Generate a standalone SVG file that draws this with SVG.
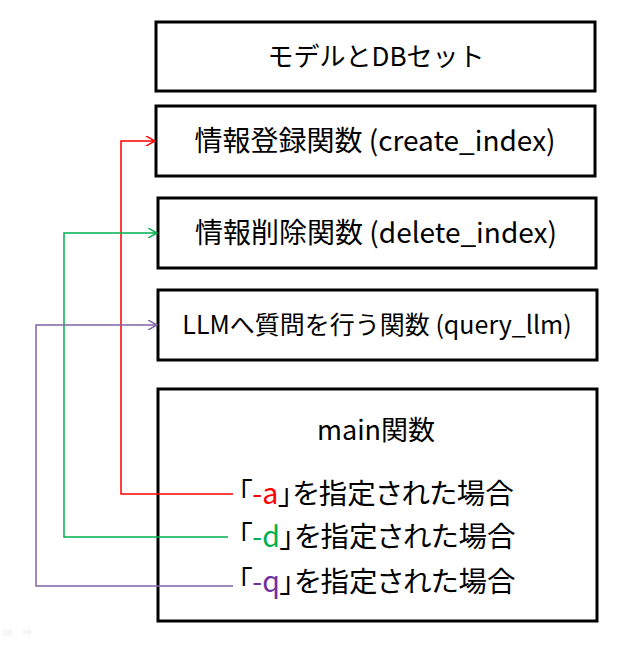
<svg xmlns="http://www.w3.org/2000/svg" width="629" height="647" viewBox="0 0 629 647">
<style>
.box{fill:#fff;stroke:#000;stroke-width:3}
.t{font-family:"Noto Sans CJK JP","Liberation Sans",sans-serif;font-size:28px;fill:#000}
.c{text-anchor:middle}
.o{font-size:28.5px;font-feature-settings:"palt"}
.ln{fill:none;stroke-width:1.5}
</style>
<defs>
<marker id="arR" viewBox="0 0 10 10" refX="9" refY="5" markerWidth="10" markerHeight="10" markerUnits="userSpaceOnUse" orient="auto"><path d="M0,0 L9,5 L0,10" fill="none" stroke="#ff0000" stroke-width="1.5"/></marker>
<marker id="arG" viewBox="0 0 10 10" refX="9" refY="5" markerWidth="10" markerHeight="10" markerUnits="userSpaceOnUse" orient="auto"><path d="M0,0 L9,5 L0,10" fill="none" stroke="#00b050" stroke-width="1.5"/></marker>
<marker id="arP" viewBox="0 0 10 10" refX="9" refY="5" markerWidth="10" markerHeight="10" markerUnits="userSpaceOnUse" orient="auto"><path d="M0,0 L9,5 L0,10" fill="none" stroke="#8064a2" stroke-width="1.5"/></marker>
</defs>
<rect width="629" height="647" fill="#fff"/>
<g id="setup">
<rect class="box" x="156" y="22" width="439" height="69"/>
<text class="t c" x="376" y="66" style="font-size:26px">モデルとDBセット</text>
</g>
<g id="create_index">
<rect class="box" x="156" y="106" width="439" height="70"/>
<text class="t c" x="375" y="151">情報登録関数 (create_index)</text>
</g>
<g id="delete_index">
<rect class="box" x="158" y="198" width="438" height="70"/>
<text class="t c" x="376" y="243">情報削除関数 (delete_index)</text>
</g>
<g id="query_llm">
<rect class="box" x="158" y="290" width="439" height="70"/>
<text class="t c" x="377" y="334" style="font-size:25px">LLMへ質問を行う関数 (query_llm)</text>
</g>
<g id="main">
<rect class="box" x="158" y="389" width="439" height="232"/>
<text class="t c" x="376" y="440" style="font-size:27px">main関数</text>
</g>
<g id="connectors">
<polyline class="ln" stroke="#ff0000" points="233,494 121,494 121,141 155,141" marker-end="url(#arR)"/>
<polyline class="ln" stroke="#00b050" points="228,537 64,537 64,233 157,233" marker-end="url(#arG)"/>
<polyline class="ln" stroke="#8064a2" points="233,586 36,586 36,325 157,325" marker-end="url(#arP)"/>
</g>
<g id="options">
<text class="t o" x="238" y="504">「<tspan fill="#ff0000">-a</tspan>」を指定された場合</text>
<text class="t o" x="238" y="547">「<tspan fill="#00b050">-d</tspan>」を指定された場合</text>
<text class="t o" x="238" y="592">「<tspan fill="#7030a0">-q</tspan>」を指定された場合</text>
</g>
<g id="controls" opacity="0.25">
<rect x="3" y="629" width="9" height="7" fill="#ddd"/>
<path d="M23,630 h5 v-2 l4,4 l-4,4 v-2 h-5 z" fill="#ddd"/>
</g>
</svg>
